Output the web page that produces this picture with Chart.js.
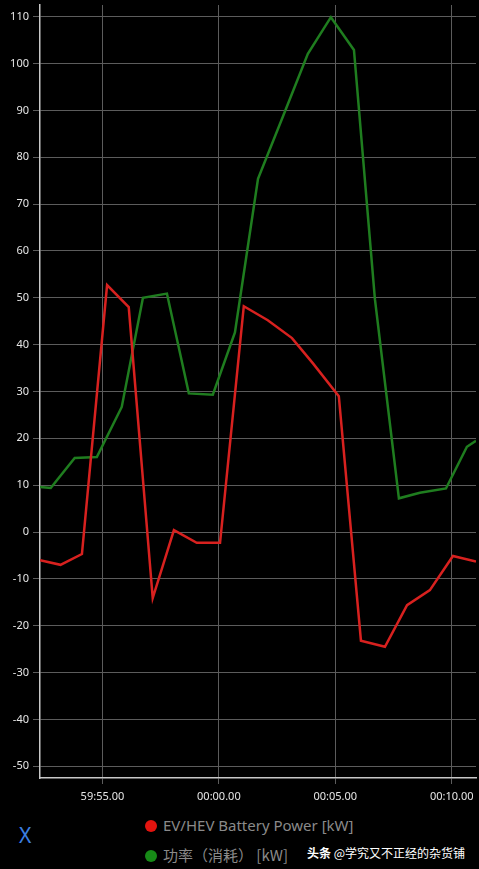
<!DOCTYPE html>
<html>
<head>
<meta charset="utf-8">
<script src="https://cdn.jsdelivr.net/npm/chart.js@4/dist/chart.umd.min.js"></script>
<style>
  html, body { margin: 0; padding: 0; background: #000; }
  body { width: 479px; height: 869px; position: relative; overflow: hidden;
         font-family: "Noto Sans", "Noto Sans CJK SC", sans-serif; }
  #wrap { position: absolute; left: 0; top: 0; width: 479px; height: 810px; }
  .legend { position: absolute; left: 145px; font-size: 15px; color: #8a8a8a; white-space: nowrap; }
  .legend span.dot { display: inline-block; width: 12px; height: 12px; border-radius: 50%;
                     vertical-align: -1px; margin-right: 6px; }
  #xbtn { position: absolute; left: 19px; top: 821px; font-size: 21px; color: #3b7fe0; }
  #mark { position: absolute; left: 307px; top: 844px; font-size: 12px; color: #fff; white-space: nowrap;
          font-family: "Noto Sans CJK SC", sans-serif; }
</style>
</head>
<body>
<div id="wrap"><canvas id="grafico"></canvas></div>
<div class="legend" style="top:815px"><span class="dot" style="background:#e3140f"></span>EV/HEV Battery Power [kW]</div>
<div class="legend" style="top:844px; font-family:'Noto Sans CJK SC', sans-serif"><span class="dot" style="background:#178a17"></span>功率（消耗） [kW]</div>
<div id="xbtn">X</div>
<div id="mark"><b>头条</b> @学究又不正经的杂货铺</div>
<script>
// seconds relative to 00:00.00
const redTimes = [-7.68, -6.8, -5.88, -4.8, -3.87, -2.84, -1.93, -0.95, 0.05, 1.07, 2.1, 3.14, 4.04, 5.15, 6.1, 7.13, 8.08, 9.06, 10.05, 11.04];
const redValues = [-6.0, -7.0, -4.7, 52.7, 48.0, -14.1, 0.4, -2.3, -2.3, 48.2, 45.2, 41.4, 36.0, 29.0, -23.2, -24.5, -15.6, -12.4, -5.1, -6.3];

const greenTimes = [-7.68, -7.22, -6.19, -5.24, -4.17, -3.26, -2.23, -1.29, -0.26, 0.69, 1.68, 2.75, 3.82, 4.81, 5.8, 6.7, 7.73, 8.63, 9.75, 10.65, 11.04];
const greenValues = [9.6, 9.4, 15.8, 16.0, 26.7, 50.0, 50.9, 29.6, 29.3, 42.6, 75.4, 88.7, 102.1, 109.9, 102.9, 49.7, 7.2, 8.4, 9.3, 18.2, 19.5];

const xTickValues = [-5, 0, 5, 10];
const xTickLabels = ['59:55.00', '00:00.00', '00:05.00', '00:10.00'];

const pares = (xs, ys) => xs.map((x, i) => ({ x: x, y: ys[i] }));

document.addEventListener('DOMContentLoaded', function () {
  const ctx = document.getElementById('grafico');
  new Chart(ctx, {
    type: 'line',
    data: {
      datasets: [
        {
          label: 'EV/HEV Battery Power [kW]',
          data: pares(redTimes, redValues),
          borderColor: '#d8211f',
          borderWidth: 2.5,
          pointRadius: 0,
          tension: 0
        },
        {
          label: '功率（消耗） [kW]',
          data: pares(greenTimes, greenValues),
          borderColor: '#1f7d1f',
          borderWidth: 2.5,
          pointRadius: 0,
          tension: 0
        }
      ]
    },
    options: {
      responsive: true,
      maintainAspectRatio: false,
      animation: false,
      layout: { padding: { top: 5, right: 3, left: 0, bottom: 0 } },
      plugins: {
        legend: { display: false },
        tooltip: { enabled: false }
      },
      scales: {
        x: {
          type: 'linear',
          min: -7.68,
          max: 11.04,
          afterFit: s => { s.height = 32; s.paddingLeft = 0; s.paddingRight = 0; },
          afterBuildTicks: s => { s.ticks = xTickValues.map(v => ({ value: v })); },
          ticks: {
            color: '#e6e6e6',
            font: { size: 11, family: 'Noto Sans' },
            padding: 6,
            maxRotation: 0,
            callback: v => xTickLabels[xTickValues.indexOf(v)]
          },
          grid: { color: '#5c5c5c', lineWidth: 1, tickLength: 6 },
          border: { color: '#c8c8c8', width: 1.5 }
        },
        y: {
          min: -52.5,
          max: 112.5,
          afterFit: s => { s.width = 40; s.paddingTop = 0; s.paddingBottom = 0; },
          ticks: {
            stepSize: 10,
            includeBounds: false,
            color: '#e6e6e6',
            font: { size: 11, family: 'Noto Sans' },
            padding: 4
          },
          grid: { color: '#5c5c5c', lineWidth: 1, tickLength: 7 },
          border: { color: '#c8c8c8', width: 1.5 }
        }
      }
    }
  });
});
</script>
</body>
</html>
